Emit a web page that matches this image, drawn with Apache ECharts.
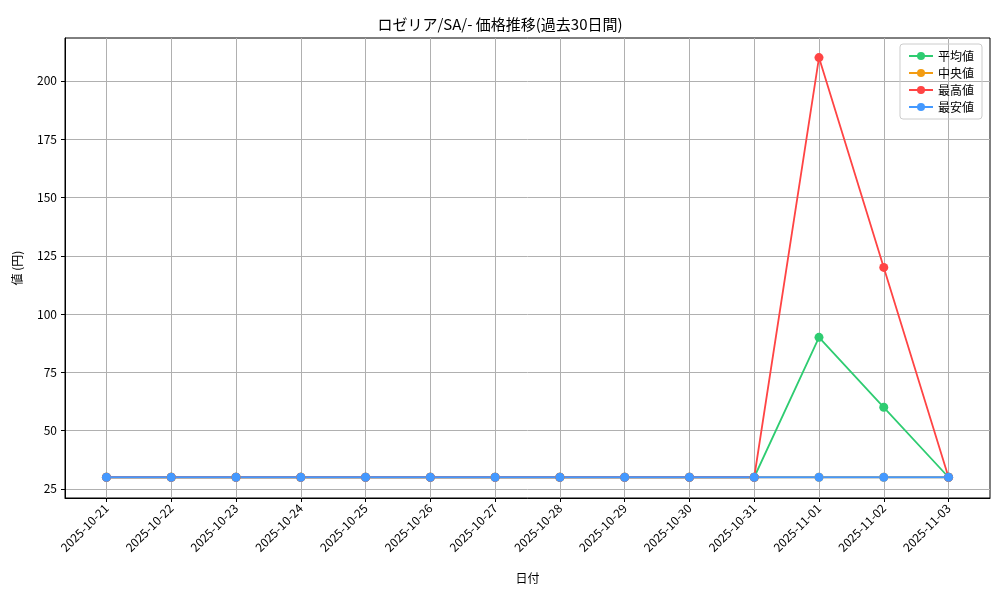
<!DOCTYPE html><html><head><meta charset="utf-8">
<script src="https://cdn.jsdelivr.net/npm/echarts@6/dist/echarts.min.js"></script>
<style>html,body{margin:0;padding:0;background:#fff}#c{width:1000px;height:600px}</style></head><body><div id="c"></div>
<script>
const dates=['2025-10-21','2025-10-22','2025-10-23','2025-10-24','2025-10-25','2025-10-26','2025-10-27','2025-10-28','2025-10-29','2025-10-30','2025-10-31','2025-11-01','2025-11-02','2025-11-03'];
const avgVals=[30,30,30,30,30,30,30,30,30,30,30,90,60,30];
const medVals=[30,30,30,30,30,30,30,30,30,30,30,30,30,30];
const maxVals=[30,30,30,30,30,30,30,30,30,30,30,210,120,30];
const minVals=[30,30,30,30,30,30,30,30,30,30,30,30,30,30];
const yTicks=[25,50,75,100,125,150,175,200];
const F='Noto Sans CJK JP';
const idx=dates.map((d,i)=>i);
const mk=(name,vals,color)=>({name,type:'line',data:vals.map((v,i)=>[i,v]),symbol:'circle',symbolSize:9,itemStyle:{color},lineStyle:{color,width:1.8}});
const ch=echarts.init(document.getElementById('c'));
ch.setOption({animation:false,textStyle:{fontFamily:F},
title:{text:'ロゼリア/SA/- 価格推移(過去30日間)',left:'center',top:12,textStyle:{fontFamily:F,fontSize:15,fontWeight:'normal',color:'#000'}},
grid:{left:65,right:10,top:38,bottom:102,show:true,borderColor:'#000',borderWidth:1,backgroundColor:'transparent'},
legend:{right:18,top:44,orient:'vertical',itemGap:5,itemWidth:24,itemHeight:10,borderColor:'#ccc',borderWidth:1,borderRadius:3,padding:[6,8],textStyle:{fontFamily:F,fontSize:12,color:'#000'},data:['平均値','中央値','最高値','最安値']},
xAxis:{type:'value',min:-0.64,max:13.64,name:'日付',nameLocation:'middle',nameGap:74,nameTextStyle:{fontFamily:F,fontSize:12,color:'#000'},
axisLine:{onZero:false,lineStyle:{color:'#000'}},axisTick:{customValues:idx,length:4,lineStyle:{color:'#000'}},
axisLabel:{customValues:idx,rotate:45,color:'#000',fontSize:12,formatter:v=>dates[Math.round(v)]},
splitLine:{show:true,lineStyle:{color:'#b0b0b0'}}},
yAxis:{type:'value',min:21.1,max:218.4,name:'値 (円)',nameLocation:'middle',nameGap:42,nameTextStyle:{fontFamily:F,fontSize:12,color:'#000'},
axisLine:{show:true,onZero:false,lineStyle:{color:'#000'}},axisTick:{show:true,customValues:yTicks,length:4,lineStyle:{color:'#000'}},
axisLabel:{customValues:yTicks,color:'#000',fontSize:12},
splitLine:{show:true,lineStyle:{color:'#b0b0b0'}}},
series:[mk('平均値',avgVals,'#2ecc71'),mk('中央値',medVals,'#f39c12'),mk('最高値',maxVals,'#ff4444'),mk('最安値',minVals,'#4499ff')]
});
</script></body></html>
